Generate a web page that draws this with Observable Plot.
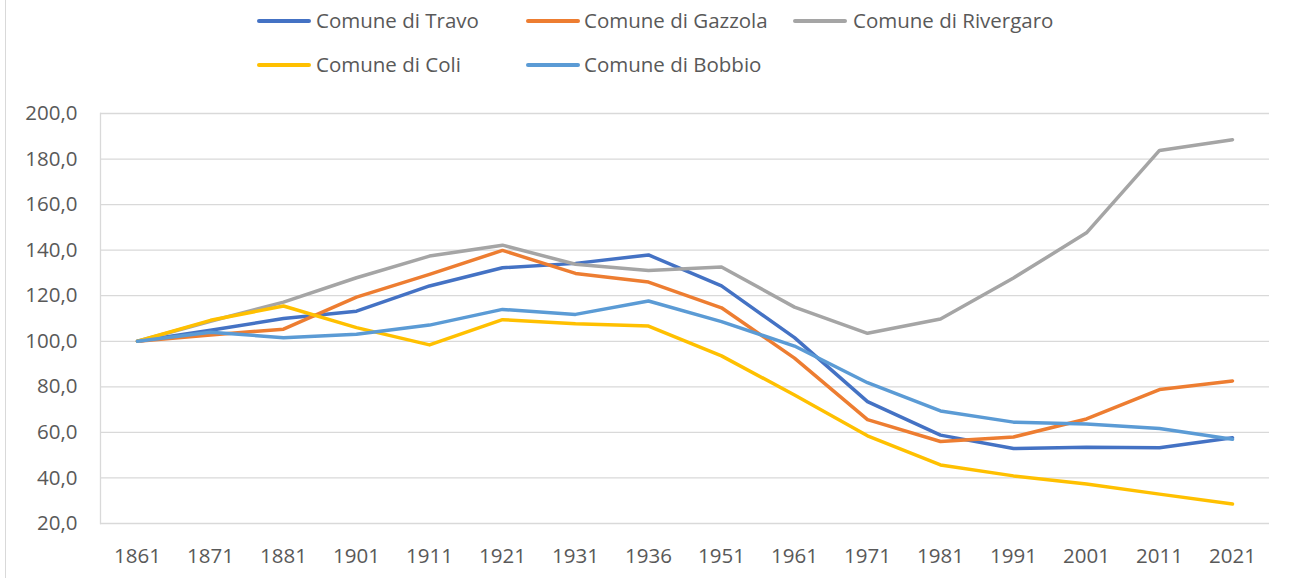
<!DOCTYPE html>
<html>
<head>
<meta charset="utf-8">
<script src="https://cdn.jsdelivr.net/npm/d3@7"></script>
<script src="https://cdn.jsdelivr.net/npm/@observablehq/plot@0.6"></script>
<style>
  html, body { margin: 0; padding: 0; background: white; }
  #wrap { position: relative; width: 1298px; height: 579px; overflow: hidden; font-family: "Open Sans", sans-serif; }
  #border { position: absolute; left: 5px; top: 0; width: 0; height: 578px; border-left: 1.5px solid #d9d9d9; }
  #legend { position: relative; width: 1298px; height: 90px; }
  .sw { position: absolute; width: 54px; height: 4px; border-radius: 2px; }
  .lt { position: absolute; font-size: 20.5px; line-height: 28px; color: #595959; white-space: nowrap; }
</style>
</head>
<body>
<div id="wrap">
  <div id="border"></div>
  <div id="legend"></div>
  <div id="chart"></div>
</div>
<script>
const years = ["1861","1871","1881","1901","1911","1921","1931","1936","1951","1961","1971","1981","1991","2001","2011","2021"];
const seriesNames = ["Comune di Travo","Comune di Gazzola","Comune di Rivergaro","Comune di Coli","Comune di Bobbio"];
const colors = ["#4472C4","#ED7D31","#A5A5A5","#FFC000","#5B9BD5"];
const travo     = [100,104.8,110,113.2,124.3,132.3,134.2,137.9,124.3,101.6,73.5,58.8,52.9,53.5,53.3,57.6];
const gazzola   = [100,102.8,105.3,119.4,129.4,139.9,129.8,126,114.7,92.6,65.6,56,58,65.9,78.8,82.6];
const rivergaro = [100,108.8,117.2,127.9,137.4,142.2,133.8,131.1,132.6,115,103.5,109.8,127.8,147.6,183.8,188.5];
const coli      = [100,109.2,115.5,106,98.4,109.5,107.7,106.7,93.6,76.4,58.5,45.7,40.9,37.3,32.9,28.6];
const bobbio    = [100,104,101.6,103.1,107.1,114,111.8,117.7,108.6,97.9,81.8,69.4,64.5,63.7,61.7,57];
const yTicks = [20,40,60,80,100,120,140,160,180,200];

const seriesValues = [travo, gazzola, rivergaro, coli, bobbio];
const data = seriesNames.flatMap((s, i) => years.map((y, j) => ({series: s, year: y, value: seriesValues[i][j]})));

// legend
const legendPos = [
  {sw: 257, tx: 316, top: 21},
  {sw: 526, tx: 584, top: 21},
  {sw: 793, tx: 853, top: 21},
  {sw: 257, tx: 316, top: 65},
  {sw: 526, tx: 584, top: 65}
];
const legend = document.getElementById("legend");
seriesNames.forEach((s, i) => {
  const p = legendPos[i];
  const sw = document.createElement("div");
  sw.className = "sw";
  sw.style.left = p.sw + "px";
  sw.style.top = (p.top - 2) + "px";
  sw.style.background = colors[i];
  legend.appendChild(sw);
  const t = document.createElement("div");
  t.className = "lt";
  t.style.left = p.tx + "px";
  t.style.top = (p.top - 15) + "px";
  t.textContent = s;
  legend.appendChild(t);
});

const fmt = d => d.toFixed(1).replace(".", ",");

const chart = Plot.plot({
  width: 1298,
  height: 489,
  marginTop: 23,
  marginBottom: 56,
  marginLeft: 100,
  marginRight: 29,
  style: {fontFamily: "'Open Sans', sans-serif", fontSize: "20.5px", color: "#595959", background: "transparent"},
  x: {type: "point", domain: years, padding: 0.5, label: null},
  y: {domain: [20, 200], label: null},
  color: {domain: seriesNames, range: colors},
  marks: [
    Plot.gridY(yTicks, {stroke: "#d9d9d9", strokeOpacity: 1, strokeWidth: 1.3}),
    Plot.frame({anchor: "left", stroke: "#d9d9d9", strokeWidth: 1.3}),
    Plot.axisX({tickSize: 0, tickPadding: 25, label: null, fill: "#595959"}),
    Plot.axisY(yTicks, {tickSize: 0, tickPadding: 23, tickFormat: fmt, label: null, fill: "#595959"}),
    Plot.line(data, {x: "year", y: "value", z: "series", stroke: "series", strokeWidth: 3.5, strokeLinejoin: "round", strokeLinecap: "round"})
  ]
});
document.getElementById("chart").appendChild(chart);
</script>
</body>
</html>
